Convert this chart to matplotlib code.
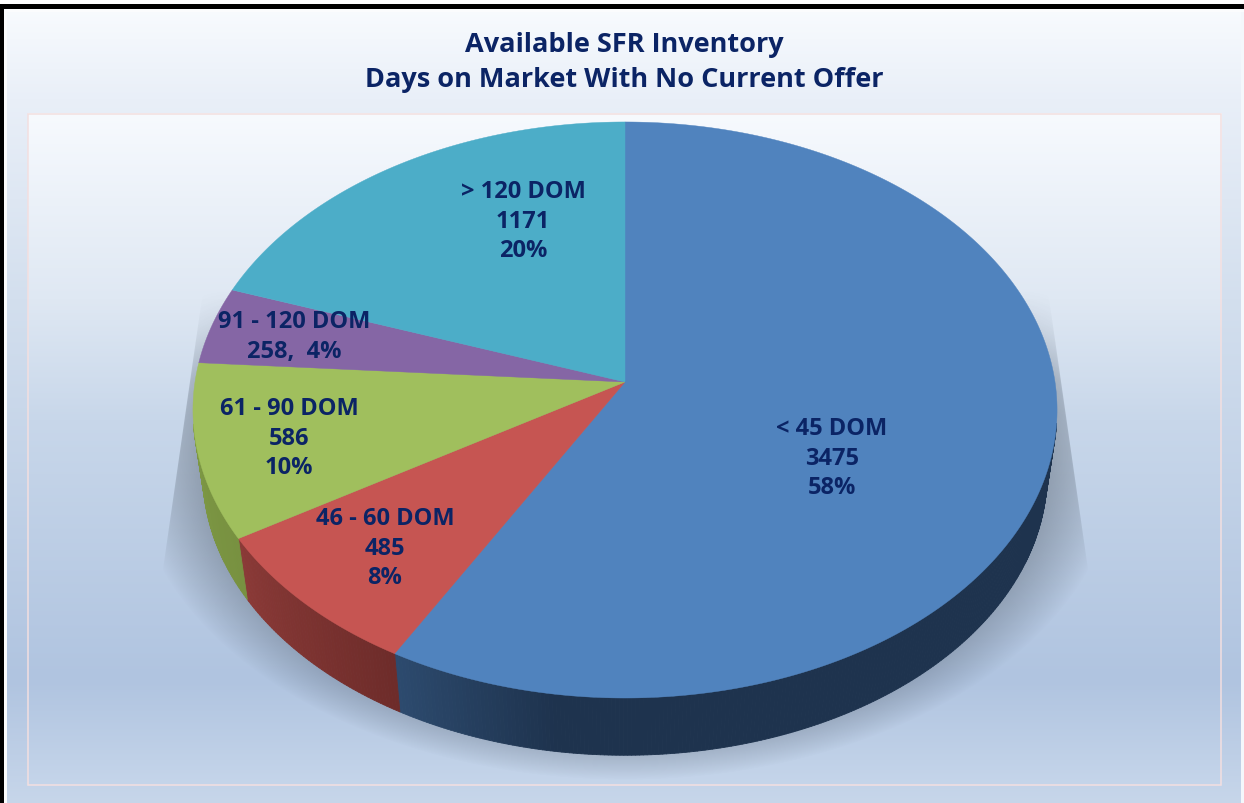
import numpy as np
import matplotlib
matplotlib.use("Agg")
import matplotlib.pyplot as plt
from matplotlib.collections import PolyCollection
from matplotlib.colors import to_rgb
from matplotlib.patches import Polygon, Rectangle

# ---- data ----
categories = ["< 45 DOM", "46 - 60 DOM", "61 - 90 DOM", "91 - 120 DOM", "> 120 DOM"]
values = [3475, 485, 586, 258, 1171]
value_labels = ["3475", "485", "586", "", "1171"]
pct_labels = ["58%", "8%", "10%", "258,  4%", "20%"]
title_lines = ["Available SFR Inventory", "Days on Market With No Current Offer"]

# ---- style ----
top_colors = ["#5083be", "#c65552", "#a0bf5d", "#8566a5", "#4cadc8"]
wall_start = ["#2d4b6f", "#8b3a37", "#7f9b47", "#66507f", "#3a8ba0"]
wall_end = ["#1e334e", "#6e2c2a", "#789140", "#66507f", "#3a8ba0"]
wall_fade = [0.1, 1.0, 1.0, 1.0, 1.0]
text_color = "#0b2465"
font = "Open Sans"

W, H = 1244, 803
fig = plt.figure(figsize=((W + 0.01) / 100, (H + 0.01) / 100), dpi=100)
ax = fig.add_axes([0, 0, 1, 1])
ax.set_xlim(0, W)
ax.set_ylim(H, 0)
ax.axis("off")

# perspective of the pie disc
CX, CY, BX, BY, K = 625.0, 382.0, 430.0, 285.3, 0.0972
SHRINK, DROP = 0.977, 64.5


def project(theta):
    x, y = np.sin(theta), -np.cos(theta)
    d = 1 - K * y
    return CX + BX * x / d, CY + BY * y / d


def project_low(theta):
    px, py = project(theta)
    return CX + (px - CX) * SHRINK, CY + (py - CY) * SHRINK + DROP


def gradient(stops, ys):
    pos = [s[0] for s in stops]
    cols = np.array([to_rgb(s[1]) for s in stops])
    return np.stack([np.interp(ys, pos, cols[:, i]) for i in range(3)], axis=1)


# outer panel
yy = np.arange(H) + 0.5
outer = gradient([(10, "#f8fbfe"), (100, "#e9eff8"), (300, "#d3dfee"),
                  (680, "#b0c4e0"), (803, "#c7d6ea")], yy)
ax.imshow(outer[:, None, :], extent=(0, W, H, 0), aspect="auto", zorder=0)

# inner plot area
inner_y = np.arange(114, 786) + 0.5
inner = gradient([(114, "#f7fafe"), (300, "#dfe8f3"), (420, "#c8d7ea"),
                  (680, "#b0c4e0"), (785, "#c5d5ea")], inner_y)
ax.imshow(inner[:, None, :], extent=(28, 1221, 786, 114), aspect="auto", zorder=1)
ax.set_xlim(0, W)
ax.set_ylim(H, 0)
ax.add_patch(Rectangle((28, 114), 1193, 671, fill=False, ec="#f3dfe0", lw=1.1, zorder=2))

# frame
ax.add_patch(Rectangle((0, 0), W, 4, fc="white", ec="none", zorder=20))
ax.add_patch(Rectangle((0, 4), W, 5.5, fc="black", ec="none", zorder=20))
ax.add_patch(Rectangle((0, 9.5), W, 2.5, fc="#fbfcfd", ec="none", zorder=20))
ax.add_patch(Rectangle((0, 4), 3.5, H, fc="black", ec="none", zorder=20))
ax.add_patch(Rectangle((3.5, 9.5), 3.5, H, fc="#fbfcfd", ec="none", zorder=20))
ax.add_patch(Rectangle((1241, 12), 3, H, fc="#f4f7fb", ec="none", zorder=20))

# soft shadow under the pie
gx, gy = np.meshgrid(np.arange(W) + 0.5, np.arange(H) + 0.5)
rad = np.hypot((gx - 625) / 495, (gy - 455) / 325)
t = np.clip((1 - rad) / 0.15, 0, 1)
alpha = 0.38 * t ** 0.9
half = 428 + 0.144 * (gy - 330)
alpha = alpha * np.clip(half - np.abs(gx - 625), 0, 1)
alpha = alpha * np.clip((gy - 290) / 90, 0, 1)
shadow = np.zeros((H, W, 4))
shadow[..., :3] = to_rgb("#3c4652")
shadow[..., 3] = alpha
ax.imshow(shadow, extent=(0, W, H, 0), aspect="auto", zorder=3)
ax.set_xlim(0, W)
ax.set_ylim(H, 0)

# slices
total = sum(values)
edges = 2 * np.pi * np.cumsum([0] + values) / total
centers_text = [(832, 429), (385, 519), (289, 409), (294, 322), (523, 192)]
LINE = 29.5

for i in range(len(values)):
    th = np.linspace(edges[i], edges[i + 1], max(int((edges[i + 1] - edges[i]) * 120), 8))
    ux, uy = project(th)
    lx, ly = project_low(th)
    quads, cols = [], []
    c0, c1 = np.array(to_rgb(wall_start[i])), np.array(to_rgb(wall_end[i]))
    for j in range(len(th) - 1):
        # the rear of the wall is hidden behind the top of the pie
        if -np.cos(th[j]) < 0.15 and -np.cos(th[j + 1]) < 0.15:
            continue
        quads.append([(ux[j], uy[j]), (ux[j + 1], uy[j + 1]), (lx[j + 1], ly[j + 1]), (lx[j], ly[j])])
        # walls run clockwise: the shade is lightest at the slice's last edge
        f = (th[-1] - th[j]) / (th[-1] - th[0]) / wall_fade[i]
        cols.append(c0 + (c1 - c0) * min(f, 1.0))
    if quads:
        ax.add_collection(PolyCollection(quads, facecolors=cols, edgecolors=cols, linewidths=0.6, zorder=4))

for i in range(len(values)):
    th = np.linspace(edges[i], edges[i + 1], 400)
    ux, uy = project(th)
    pts = np.column_stack([np.r_[CX, ux], np.r_[CY, uy]])
    ax.add_patch(Polygon(pts, closed=True, fc=top_colors[i], ec=top_colors[i], lw=0.3, zorder=5))

# labels
for i, cat in enumerate(categories):
    x, y = centers_text[i]
    lines = [s for s in (cat, value_labels[i], pct_labels[i]) if s]
    for n, s in enumerate(lines):
        ax.text(x, y + n * LINE, s, ha="center", va="center", fontsize=17, family=font,
                fontweight="bold", color=text_color, zorder=10)

ax.text(624, 45, title_lines[0], ha="center", va="center", fontsize=19.5, family=font,
        fontweight="bold", color=text_color, zorder=10)
ax.text(624, 80, title_lines[1], ha="center", va="center", fontsize=19.5, family=font,
        fontweight="bold", color=text_color, zorder=10)

fig.savefig("out.png", dpi=100)
